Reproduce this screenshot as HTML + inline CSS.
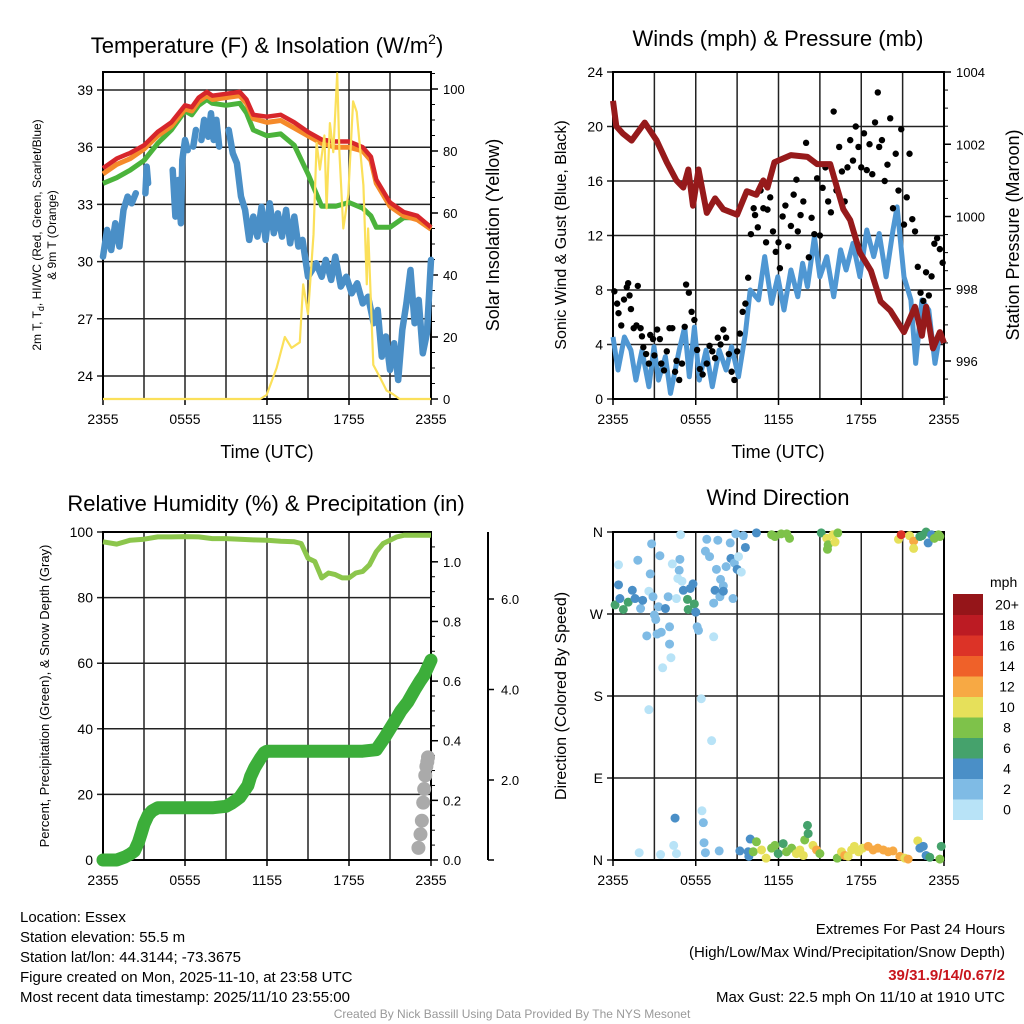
<!DOCTYPE html>
<html><head><meta charset="utf-8"><style>
body{margin:0;background:#fff;}
svg{display:block;font-family:"Liberation Sans",sans-serif;}
</style></head><body>
<svg id="s" width="1024" height="1024" viewBox="0 0 1024 1024" xmlns="http://www.w3.org/2000/svg">
<rect width="1024" height="1024" fill="#fff"/>
<g id="g1"></g>
<g id="g2"></g>
<g id="g3"></g>
<g id="g4"></g>
<g font-size="22" text-anchor="middle" fill="#000">
<text x="267" y="53">Temperature (F) &amp; Insolation (W/m<tspan font-size="14" dy="-9">2</tspan><tspan dy="9">)</tspan></text>
<text x="778" y="46">Winds (mph) &amp; Pressure (mb)</text>
<text x="266" y="511">Relative Humidity (%) &amp; Precipitation (in)</text>
<text x="778" y="505">Wind Direction</text>
</g>
<g font-size="18" text-anchor="middle">
<text x="267" y="458">Time (UTC)</text>
<text x="778" y="458">Time (UTC)</text>
<text transform="translate(499,235) rotate(-90)">Solar Insolation (Yellow)</text>
<text transform="translate(1019,235) rotate(-90)">Station Pressure (Maroon)</text>
<text font-size="16" transform="translate(566,235) rotate(-90)">Sonic Wind &amp; Gust (Blue, Black)</text>
<text font-size="16" transform="translate(566,696) rotate(-90)">Direction (Colored By Speed)</text>
<text font-size="12" transform="translate(41,235) rotate(-90)">2m T, T<tspan font-size="9" dy="3">d</tspan><tspan dy="-3">, HI/WC (Red, Green, Scarlet/Blue)</tspan></text>
<text font-size="12" transform="translate(56,235) rotate(-90)">&amp; 9m T (Orange)</text>
<text font-size="13" transform="translate(49,696) rotate(-90)">Percent, Precipitation (Green), &amp; Snow Depth (Gray)</text>
</g>
<g font-size="15">
<text x="20" y="922">Location: Essex</text>
<text x="20" y="942">Station elevation: 55.5 m</text>
<text x="20" y="962">Station lat/lon: 44.3144; -73.3675</text>
<text x="20" y="982">Figure created on Mon, 2025-11-10, at 23:58 UTC</text>
<text x="20" y="1002">Most recent data timestamp: 2025/11/10 23:55:00</text>
</g>
<g font-size="15" text-anchor="end">
<text x="1005" y="934">Extremes For Past 24 Hours</text>
<text x="1005" y="957">(High/Low/Max Wind/Precipitation/Snow Depth)</text>
<text x="1005" y="980" fill="#c8161d" font-weight="bold">39/31.9/14/0.67/2</text>
<text x="1005" y="1002">Max Gust: 22.5 mph On 11/10 at 1910 UTC</text>
</g>
<text x="512" y="1018" font-size="12" fill="#999" text-anchor="middle">Created By Nick Bassill Using Data Provided By The NYS Mesonet</text>
</svg>
<script>
const tempHours=[0,1,2,3,4,5,6,6.5,7,7.6,8,9,10,10.5,11,12,13,14,15,16,17,18,19,19.6,20,21,22,23,24];
const tempRed=[34.9,35.4,35.7,36.1,36.8,37.3,38.2,38.1,38.6,38.9,38.7,38.8,38.9,38.5,37.7,37.6,37.7,37.3,36.8,36.4,36.3,36.3,36.0,35.5,34.3,33.1,32.6,32.4,31.8];
const temp9m=[34.6,35.1,35.4,35.9,36.6,37.1,38.0,37.9,38.4,38.7,38.5,38.6,38.7,38.3,37.5,37.3,37.4,37.0,36.6,36.2,36.0,36.0,35.8,35.3,34.1,32.9,32.4,32.2,31.7];
const tempGreen=[34.1,34.4,34.8,35.3,36.2,36.9,37.9,37.7,38.2,38.5,38.3,38.2,38.3,37.8,36.9,36.6,36.7,36.1,34.6,32.9,32.9,33.1,32.8,32.4,31.8,31.8,32.3,32.3,31.8];
const dewHours=[0,0.3,0.6,0.9,1.2,1.5,1.8,2.1,2.4,null,3.1,3.2,3.3,null,5.1,5.3,5.5,5.7,5.8,6.0,6.2,null,6.6,6.8,null,7.2,7.4,7.7,7.9,8.1,8.3,8.5,null,9.2,9.5,9.8,10.1,10.4,10.7,11.0,11.3,11.6,11.9,12.2,12.5,12.8,13.1,13.4,13.7,14.0,14.3,14.6,15.0,15.3,15.6,16.0,16.3,16.7,17.0,17.4,17.8,18.2,18.6,19.0,19.4,19.8,20.1,20.4,20.7,21.0,21.3,21.6,21.9,22.2,22.5,22.8,23.1,23.4,23.7,24];
const dewValues=[30.26,31.66,30.61,32.01,30.79,32.71,33.41,33.06,33.58,null,33.58,34.98,34.11,null,34.81,32.36,34.28,32.01,35.33,36.38,35.85,null,36.03,36.9,null,36.38,37.43,36.55,37.78,36.38,37.43,36.03,null,36.9,35.68,35.16,33.41,32.71,31.14,32.36,31.31,32.88,31.14,33.06,31.49,32.53,31.31,32.71,30.96,32.36,30.79,31.14,29.21,29.56,29.91,29.21,30.09,29.04,30.26,28.69,29.21,28.34,28.86,27.81,28.16,26.77,27.46,25.02,26.07,24.32,25.72,23.79,26.42,27.81,29.56,26.77,27.99,25.19,26.24,30.09];
const solarHours=[0,11.5,11.97,12.7,13.3,13.8,14.4,14.65,15.0,15.4,15.63,15.87,16.2,16.36,16.6,16.85,17.14,17.3,17.58,17.95,18.3,18.56,19.05,19.3,19.4,19.78,20.26,20.75,21.2,21.7,24];
const solarValues=[0,0,1.3,10,20,16.5,18.3,37,27.4,53,82.6,74,85,61.5,89,79.6,105,79.6,55,66,96,92.6,69,37,55,11,7,2.7,1.6,0,0];
const presHours=[0,0.24,0.7,1.35,2.3,3.17,3.9,4.6,5.1,5.46,5.8,6.2,6.8,7.4,8.0,9.0,9.7,10.4,10.9,11.2,11.7,12.9,14.1,14.8,15.75,16.7,17.2,17.9,18.7,19.4,20.1,21.1,21.9,22.4,22.7,23.2,23.7,24];
const presValues=[1003.2,1002.5,1002.3,1002.1,1002.6,1002.1,1001.5,1001.0,1000.8,1001.3,1000.3,1001.3,1000.1,1000.5,1000.2,1000.05,1000.7,1000.6,1001.0,1000.8,1001.5,1001.7,1001.65,1001.45,1001.45,1000.2,999.9,999.0,998.5,997.65,997.4,996.8,997.5,996.7,997.5,996.35,996.8,996.5];
const windHours=[0,0.36,0.83,1.3,1.66,2.1,2.6,2.97,3.3,3.8,4.17,4.8,5.2,5.53,5.9,6.26,6.75,7.2,7.7,8.2,8.6,9.1,9.6,9.95,10.55,11.0,11.5,11.95,12.4,12.9,13.4,13.75,14.1,14.6,15.0,15.5,16.0,16.5,16.9,17.4,17.9,18.4,18.9,19.3,19.8,20.3,20.6,21.1,21.6,21.95,22.4,22.9,23.35,23.7];
const windValues=[4.55,2.13,4.55,3.59,1.39,3.57,0.90,3.84,1.39,3.11,0.41,3.59,5.28,1.64,5.28,1.39,3.59,0.90,3.59,2.13,3.84,1.64,4.81,8.0,7.27,10.45,7.02,8.97,6.53,9.47,7.51,9.96,8.24,11.9,8.97,10.45,7.51,10.94,9.47,11.43,8.97,12.4,10.45,12.15,8.97,12.4,14.1,8.97,7.27,2.61,7.27,6.53,2.61,4.81];
const gustHours=[0.1,0.3,0.4,0.6,0.8,1,1.1,1.2,1.3,1.5,1.7,1.8,2,2.1,2.2,2.4,2.6,2.7,2.9,3.0,3.2,3.4,3.5,3.7,3.9,4.1,4.3,4.5,4.6,4.8,5.0,5.2,5.3,5.5,5.7,5.9,6.1,6.3,6.5,6.8,7.0,7.2,7.4,7.6,7.8,8.0,8.2,8.4,8.6,8.8,9.0,9.2,9.4,9.6,9.8,10.0,10.2,10.3,10.5,10.7,10.9,11.1,11.2,11.4,11.6,11.8,12,12.1,12.3,12.5,12.7,12.9,13.1,13.3,13.4,13.6,13.8,14.0,14.2,14.4,14.6,14.8,15.0,15.2,15.4,15.6,15.8,16.0,16.2,16.4,16.6,16.8,17.0,17.2,17.4,17.6,17.8,18.0,18.2,18.4,18.6,18.8,19.0,19.2,19.3,19.5,19.7,19.9,20.1,20.3,20.5,20.7,20.9,21.1,21.3,21.5,21.7,21.9,22.1,22.3,22.5,22.7,22.9,23.1,23.3,23.5,23.7,23.9];
const gustValues=[7.9,7.0,6.3,5.4,7.3,8.2,8.5,7.6,6.6,5.2,5.4,8.3,5.2,4.6,3.8,3.3,2.6,4.7,4.4,3.2,5.1,4.4,2.6,2.1,3.5,5.2,5.2,2.0,2.8,1.4,2.6,5.3,8.4,7.8,6.4,5.8,3.6,2.2,1.8,2.6,3.9,3.5,3.0,4.5,4.0,5.1,4.5,3.3,2.0,1.4,3.5,4.8,6.4,7.0,8.9,12.1,14.0,13.5,12.6,15.3,14.0,11.5,13.9,14.8,12.3,10.8,11.5,9.6,13.4,14.2,11.2,12.7,15.0,16.1,12.3,13.5,14.5,18.8,10.4,13.3,12.1,16.2,12.0,15.5,17.0,14.5,13.7,21.1,15.3,18.5,16.7,14.5,17.0,19.0,17.5,20.0,18.5,17.0,19.5,16.8,18.7,16.5,20.3,22.5,18.5,19.0,16.0,17.2,20.6,14.0,18.0,15.3,19.8,12.8,14.8,18.0,13.2,12.3,9.7,7.8,7.2,9.3,7.6,9.0,11.4,11.8,11.0,10.0];
const rhHours=[0,1,2,3,4,5,6,7,8,9,10,11,12,13,14,14.5,15,15.5,16,16.5,17,17.5,18,18.5,19,19.5,20,20.5,21,21.5,22,23,24];
const rhValues=[97,96.3,97.5,97.8,98.5,98.5,98.6,98.5,98,98,97.8,97.6,97.5,97.2,97,96.5,92,91,86,87.5,87,86,86,87.5,88,90,94,96.5,97.5,98.5,99,99,99];
const precipHours=[0,1,1.6,2,2.3,2.6,2.8,3,3.3,3.6,4,4.5,5,6,7,8,9,9.4,9.7,10,10.3,10.6,10.8,11.1,11.5,11.8,12,13,14,15,16,17,18,19,20,20.3,20.6,21,21.4,21.8,22.3,22.8,23.2,23.5,23.8,24];
const precipValues=[0,0,0.01,0.02,0.03,0.06,0.09,0.12,0.15,0.165,0.175,0.175,0.175,0.175,0.175,0.175,0.18,0.19,0.2,0.21,0.23,0.25,0.28,0.31,0.34,0.36,0.365,0.365,0.365,0.365,0.365,0.365,0.365,0.365,0.37,0.39,0.41,0.44,0.47,0.5,0.53,0.57,0.6,0.62,0.65,0.67];
const snowHours=[23.3,23.45,23.55,23.65,23.72,23.8,23.88,23.95,24];
const snowValues=[0.5,0.8,1.1,1.5,1.8,2.1,2.3,2.4,2.5];
const dirHours=[0.4,0.4,0.15,0.5,0.75,1.1,1.4,1.6,1.8,2.0,2.15,2.6,2.7,2.8,2.9,3.0,3.1,2.45,3.3,3.4,3.2,3.5,3.8,4.0,4.1,4.1,4.2,3.6,4.3,4.6,4.8,4.85,4.7,5.0,4.9,5.1,5.4,5.45,5.6,5.8,5.9,6.0,6.1,6.2,6.8,6.7,7.0,7.3,7.3,7.4,7.5,7.6,7.75,7.8,8.0,8.0,8.2,8.5,8.55,8.7,8.8,9.0,8.9,9.1,9.3,9.45,9.6,2.6,6.4,7.15,1.9,3.45,4.5,4.4,4.6,6.45,6.55,6.6,6.7,7.7,9.2,9.8,9.85,9.95,10.17,10.4,10.77,11.1,11.5,11.74,11.98,12.34,12.58,12.95,13.3,13.55,13.8,13.9,14.1,14.15,14.5,14.76,15.0,16.26,16.57,16.8,17.05,17.3,17.5,17.8,18.1,18.5,18.86,19.2,19.6,19.95,20.3,20.8,21.16,21.4,22.1,22.25,22.5,22.7,22.97,23.7,23.8,10.4,11.5,11.74,12.2,12.6,12.8,15.1,15.5,15.6,15.55,15.96,16.1,16.3,20.7,20.9,21.5,21.8,21.8,22.25,22.4,22.7,22.85,23.1,23.3,23.6,23.7];
const dirValues=[324,302,280,287,275,283,296,287,329,276,285,295,314,347,289,269,264,246,278,334,248,250,276,289,256,237,222,211,325,287,318,330,309,306,357,296,286,275,298,303,281,272,256,252,352,339,333,245,282,296,319,351,289,308,301,295,322,348,331,287,326,319,358,333,316,356,343,165,177,131,8,6,46,16,7,54,41,19,8,10,10,9,4,23,9,20,11,2,13,16,7,18,9,13,7,11,5,22,38,29,16,11,7,2,9,5,4,11,15,9,13,15,11,13,11,9,10,4,2,1,21,13,15,5,3,1,15,359,357,355,358,358,353,359,353,346,341,357,349,359,352,357,356,350,342,355,356,360,348,357,353,357,355];
const dirSpeeds=[1,5,7,5,7,7,5,5,3,3,5,1,3,3,3,3,3,3,3,3,3,3,5,3,3,3,1,1,1,1,3,3,1,1,1,5,7,7,5,5,7,5,3,3,3,3,3,1,3,5,3,3,3,3,3,5,3,3,5,3,3,5,3,1,1,3,5,1,1,1,1,1,5,1,1,1,3,3,3,3,5,5,5,5,9,9,11,11,9,9,7,7,9,9,11,11,11,9,7,7,11,13,9,9,11,13,11,11,11,11,11,13,13,13,13,13,13,13,11,13,11,5,5,5,7,9,7,5,9,9,9,9,9,7,11,9,9,11,11,9,11,17,11,13,11,7,7,7,5,5,9,9,9];
const speedColors=["#b8e3f7","#7fbbe5","#4a8fc7","#45a26c","#7ec24a","#e6e05a","#f7a944","#ef6129","#dc3327","#bc1b23","#951519"];
const speedLabels=["0","2","4","6","8","10","12","14","16","18","20+"];
const xTickLabels=["2355","0555","1155","1755","2355"];

const NS="http://www.w3.org/2000/svg";
function mk(parent,tag,attrs){const e=document.createElementNS(NS,tag);for(const k in attrs)e.setAttribute(k,attrs[k]);parent.appendChild(e);return e;}
function lin(d0,d1,r0,r1){return v=>r0+(v-d0)/(d1-d0)*(r1-r0);}
function pathFrom(xs,ys,fx,fy){let d="",pen=false;for(let i=0;i<xs.length;i++){if(xs[i]===null||ys[i]===null){pen=false;continue;}d+=(pen?"L":"M")+fx(xs[i]).toFixed(1)+","+fy(ys[i]).toFixed(1);pen=true;}return d;}

function frame(g,L,R,T,B,yTicks,fy,yLab,fx){
  for(let h=0;h<=24;h+=3){const x=fx(h);const l=mk(g,"line",{x1:x,x2:x,y1:T,y2:B,stroke:"#222","stroke-width":1.5});}
  yTicks.forEach((v,i)=>{const y=fy(v);const l=mk(g,"line",{x1:L-6,x2:R,y1:y,y2:y,stroke:"#222","stroke-width":1.5});
    if(yLab){const t=mk(g,"text",{x:L-10,y:y+5,"font-size":14,"text-anchor":"end"});t.textContent=yLab[i];}});
  xTickLabels.forEach((s,i)=>{const x=fx(i*6);mk(g,"line",{x1:x,x2:x,y1:B,y2:B+6,stroke:"#000","stroke-width":1.5});const t=mk(g,"text",{x:x,y:B+25,"font-size":14,"text-anchor":"middle"});t.textContent=s;});
  const r=mk(g,"rect",{x:L,y:T,width:R-L,height:B-T,fill:"none",stroke:"#000","stroke-width":2});
}
function rightAxis(g,x,T,B,ticks,fy,labels,minor){
  mk(g,"line",{x1:x,x2:x,y1:T,y2:B,stroke:"#000","stroke-width":2});
  if(minor)minor.forEach(v=>mk(g,"line",{x1:x,x2:x+4,y1:fy(v),y2:fy(v),stroke:"#000","stroke-width":1}));
  ticks.forEach((v,i)=>{const y=fy(v);mk(g,"line",{x1:x,x2:x+7,y1:y,y2:y,stroke:"#000","stroke-width":1.5});const t=mk(g,"text",{x:x+12,y:y+5,"font-size":13});t.textContent=labels[i];});
}

// Panel 1
(function(){const g=document.getElementById("g1");const L=103,R=431,T=72,B=399;
 const fx=lin(0,24,L,R),fy=lin(24,39,376,90),fs=lin(0,100,399,89);
 frame(g,L,R,T,B,[24,27,30,33,36,39],fy,["24","27","30","33","36","39"],fx);
 const mn=[];for(let v=0;v<=105;v+=5)mn.push(v);
 rightAxis(g,R,T,B,[0,20,40,60,80,100],fs,["0","20","40","60","80","100"],mn);
 let p=mk(g,"path",{d:pathFrom(dewHours,dewValues,fx,fy),fill:"none",stroke:"#4a8fc7","stroke-width":6.5,"stroke-linejoin":"round","stroke-linecap":"round"});
 p=mk(g,"path",{d:pathFrom(tempHours,tempGreen,fx,fy),fill:"none",stroke:"#4bb33b","stroke-width":5,"stroke-linejoin":"round"});
 p=mk(g,"path",{d:pathFrom(tempHours,temp9m,fx,fy),fill:"none",stroke:"#f58a2a","stroke-width":5,"stroke-linejoin":"round"});
 p=mk(g,"path",{d:pathFrom(tempHours,tempRed,fx,fy),fill:"none",stroke:"#d7262b","stroke-width":4.5,"stroke-linejoin":"round"});
 p=mk(g,"path",{d:pathFrom(solarHours,solarValues,fx,fs),fill:"none",stroke:"#fbe05a","stroke-width":2.2,"stroke-linejoin":"round"});
})();
// Panel 2
(function(){const g=document.getElementById("g2");const L=613,R=944,T=72,B=399;
 const fx=lin(0,24,L,R),fy=lin(0,24,399,72),fp=lin(996,1004,361,72);
 frame(g,L,R,T,B,[0,4,8,12,16,20,24],fy,["0","4","8","12","16","20","24"],fx);
 const mn=[];for(let v=995;v<=1004;v+=0.5)mn.push(v);
 rightAxis(g,R,T,B,[996,998,1000,1002,1004],fp,["996","998","1000","1002","1004"],mn);
 let p=mk(g,"path",{d:pathFrom(windHours,windValues,fx,fy),fill:"none",stroke:"#4f97d3","stroke-width":5,"stroke-linejoin":"round"});
 gustHours.forEach((h,i)=>{const c=mk(g,"circle",{cx:fx(h),cy:fy(gustValues[i]),r:3.2,fill:"#000"});});
 p=mk(g,"path",{d:pathFrom(presHours,presValues,fx,fp),fill:"none",stroke:"#961a1b","stroke-width":6,"stroke-linejoin":"round"});
})();
// Panel 3
(function(){const g=document.getElementById("g3");const L=103,R=431,T=532,B=860;
 const fx=lin(0,24,L,R),fy=lin(0,100,860,532),fpr=lin(0,1.1,860,532),fsn=lin(0,2,870.5,780);
 frame(g,L,R,T,B,[0,20,40,60,80,100],fy,["0","20","40","60","80","100"],fx);
 const mn=[];for(let v=0;v<=1.1;v+=0.05)mn.push(+v.toFixed(2));
 rightAxis(g,R,T,B,[0,0.2,0.4,0.6,0.8,1.0],fpr,["0.0","0.2","0.4","0.6","0.8","1.0"],mn);
 mk(g,"line",{x1:488,x2:488,y1:T,y2:B,stroke:"#000","stroke-width":2});
 [2,4,6].forEach(v=>{const y=fsn(v);mk(g,"line",{x1:488,x2:494,y1:y,y2:y,stroke:"#000","stroke-width":1.5});const t=mk(g,"text",{x:501,y:y+5,"font-size":13});t.textContent=v.toFixed(1);});
 mk(g,"line",{x1:488,x2:494,y1:B,y2:B,stroke:"#000","stroke-width":1.5});
 let p=mk(g,"path",{d:pathFrom(rhHours,rhValues,fx,fy),fill:"none",stroke:"#8cc64c","stroke-width":5,"stroke-linejoin":"round"});
 p=mk(g,"path",{d:pathFrom(precipHours,precipValues,fx,fpr),fill:"none",stroke:"#3cae3a","stroke-width":13,"stroke-linejoin":"round","stroke-linecap":"round"});
 snowHours.forEach((h,i)=>{const c=mk(g,"circle",{cx:fx(h)-3,cy:fsn(snowValues[i]),r:7,fill:"#aaa"});});
})();
// Panel 4
(function(){const g=document.getElementById("g4");const L=613,R=944,T=532,B=860;
 const fx=lin(0,24,L,R),fy=lin(0,360,860,532);
 frame(g,L,R,T,B,[0,90,180,270,360],fy,["N","E","S","W","N"],fx);
 dirHours.forEach((h,i)=>{const s=dirSpeeds[i];const k=Math.min(10,Math.floor(s/2));const c=mk(g,"circle",{cx:fx(h),cy:fy(dirValues[i]),r:4.5,fill:speedColors[k]});});
 const lg=mk(g,"g",{});
 const t0=mk(lg,"text",{x:990,y:587,"font-size":14});t0.textContent="mph";
 const bh=20.5;
 speedColors.forEach((c,i)=>{const y=594+(10-i)*bh;const r=mk(lg,"rect",{x:953,y:y,width:30,height:bh+0.5,fill:c});
  const t=mk(lg,"text",{x:1007,y:y+bh/2+5,"font-size":14,"text-anchor":"middle"});t.textContent=speedLabels[i];});
})();
</script>
</body></html>
